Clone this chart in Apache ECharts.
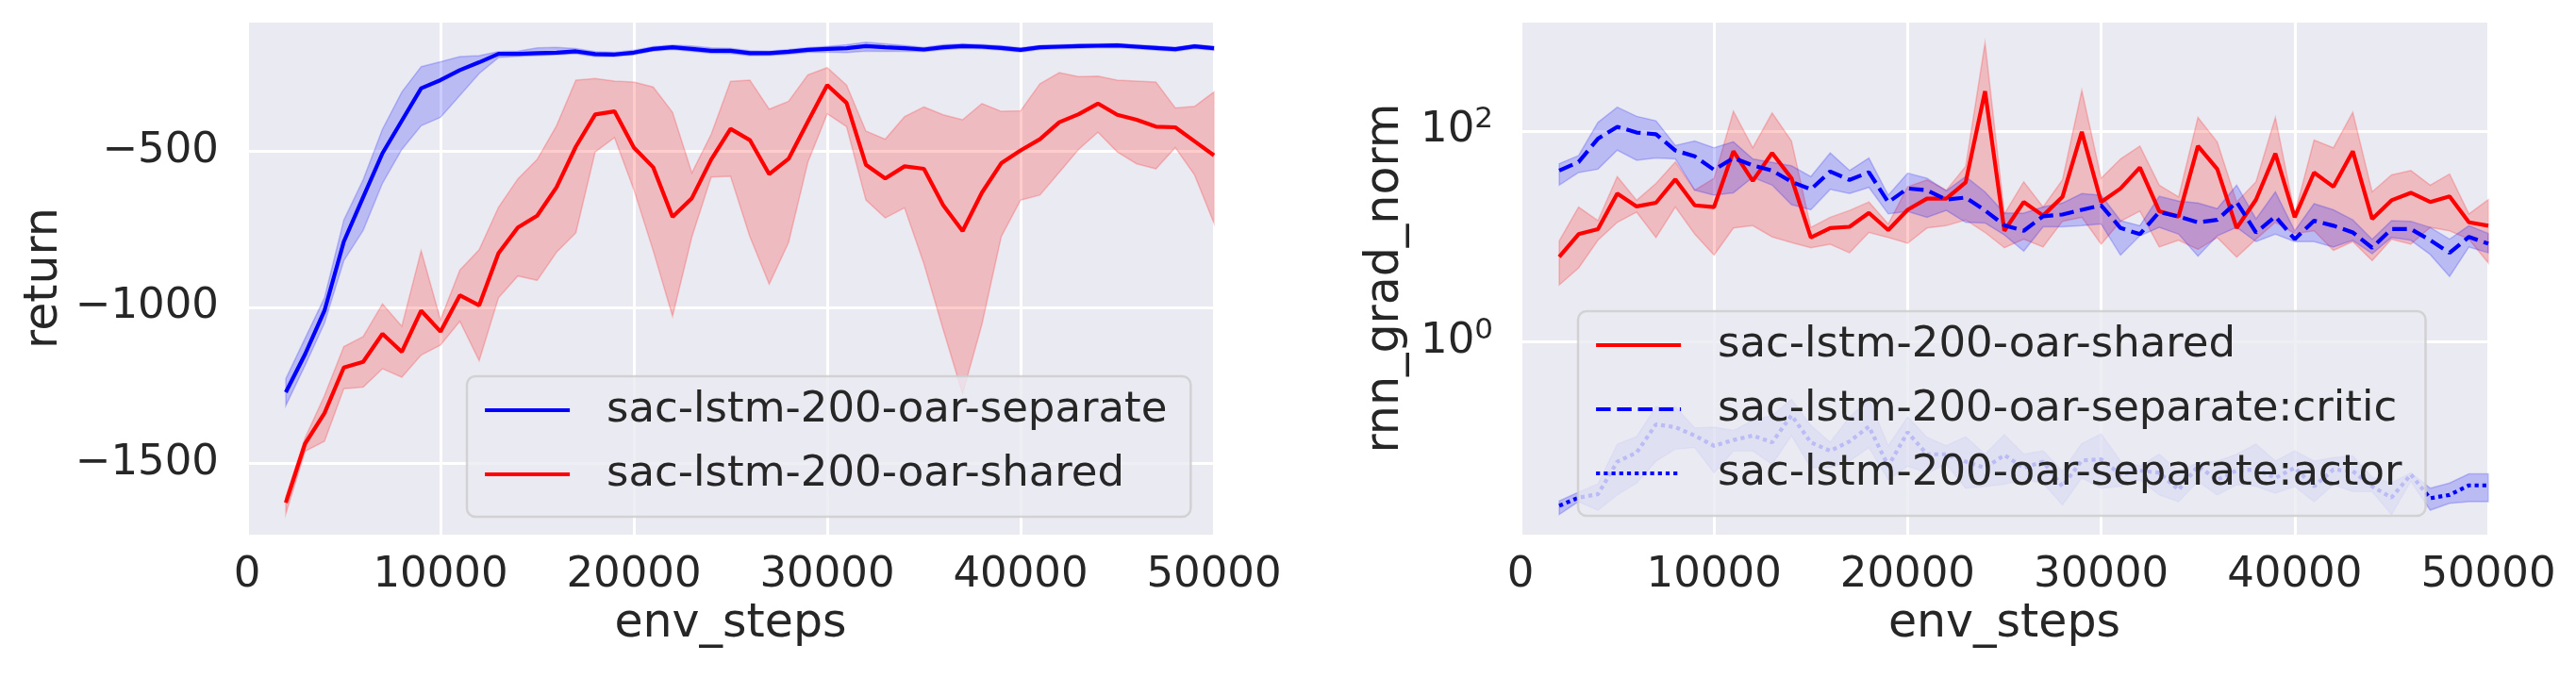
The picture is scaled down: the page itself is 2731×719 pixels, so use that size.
<!DOCTYPE html>
<html>
<head>
<meta charset="utf-8">
<script src="https://cdn.jsdelivr.net/npm/echarts@6.0.0/dist/echarts.min.js"></script>
<style>
  html, body { margin: 0; padding: 0; background: #fff; }
  #chart { width: 2731px; height: 719px; }
</style>
</head>
<body>
<div id="chart"></div>
<script>
var steps = [2000, 3000, 4000, 5000, 6000, 7000, 8000, 9000, 10000, 11000, 12000, 13000, 14000, 15000, 16000, 17000,
  18000, 19000, 20000, 21000, 22000, 23000, 24000, 25000, 26000, 27000, 28000, 29000, 30000, 31000, 32000, 33000,
  34000, 35000, 36000, 37000, 38000, 39000, 40000, 41000, 42000, 43000, 44000, 45000, 46000, 47000, 48000, 49000, 50000];

// left panel: return
var sepReturn = [-1272, -1150, -1011, -790, -648, -507, -403, -299, -273, -241, -216, -189, -189, -187, -185, -181,
  -190, -191, -185, -173, -168, -173, -179, -179, -187, -187, -182, -176, -173, -171, -164, -168, -171, -175, -168,
  -164, -166, -170, -176, -168, -166, -164, -163, -162, -166, -170, -174, -165, -171];
var sepReturnHi = [-1229, -1099, -970, -721, -592, -430, -311, -230, -214, -198, -195, -182, -180, -170, -168, -172,
  -182, -184, -177, -166, -161, -164, -170, -171, -179, -180, -175, -169, -165, -160, -152, -157, -162, -168, -160,
  -157, -159, -163, -170, -162, -160, -158, -157, -156, -160, -164, -168, -159, -165];
var sepReturnLo = [-1315, -1186, -1051, -851, -754, -603, -495, -419, -392, -322, -252, -201, -197, -195, -192, -189,
  -198, -198, -192, -180, -175, -181, -187, -188, -195, -194, -190, -184, -183, -185, -180, -181, -180, -182, -176,
  -171, -173, -177, -183, -175, -173, -171, -170, -169, -173, -177, -181, -172, -178];
var sharedReturn = [-1626, -1436, -1339, -1193, -1175, -1085, -1143, -1011, -1078, -962, -994, -827, -745, -707, -616,
  -486, -383, -373, -489, -552, -711, -651, -527, -429, -465, -574, -525, -406, -289, -346, -544, -588, -549, -557,
  -674, -756, -633, -539, -498, -462, -408, -382, -348, -384, -400, -422, -424, -469, -514];
var sharedReturnHi = [-1607, -1418, -1283, -1126, -1094, -989, -1061, -819, -1040, -881, -816, -680, -589, -527, -419,
  -273, -268, -276, -279, -295, -376, -570, -446, -277, -273, -366, -341, -256, -233, -289, -436, -462, -390, -359,
  -384, -400, -348, -373, -371, -285, -249, -262, -260, -273, -276, -279, -362, -357, -311];
var sharedReturnLo = [-1661, -1461, -1429, -1261, -1256, -1197, -1224, -1153, -1121, -1045, -1171, -970, -900, -914,
  -824, -762, -503, -457, -624, -819, -1029, -775, -583, -581, -774, -926, -793, -536, -381, -422, -657, -714, -682,
  -861, -1072, -1277, -1055, -774, -657, -641, -568, -495, -440, -503, -541, -557, -489, -577, -731];
var returnTicks = [-1500, -1000, -500];

var sharedGradExp = [0.806, 1.021, 1.069, 1.406, 1.284, 1.319, 1.541, 1.294, 1.278, 1.807, 1.525, 1.791, 1.551, 0.989,
  1.079, 1.091, 1.223, 1.059, 1.252, 1.358, 1.358, 1.512, 2.376, 1.053, 1.326, 1.197, 1.374, 1.990, 1.326, 1.454,
  1.653, 1.239, 1.188, 1.856, 1.637, 1.079, 1.348, 1.785, 1.181, 1.605, 1.470, 1.807, 1.165, 1.342, 1.413, 1.326,
  1.380, 1.133, 1.101];
var sharedGradExpHi = [0.957, 1.278, 1.149, 1.567, 1.342, 1.502, 1.705, 1.438, 1.551, 2.186, 1.840, 2.170, 1.904, 1.085,
  1.181, 1.246, 1.326, 1.117, 1.470, 1.535, 1.438, 1.663, 2.835, 1.213, 1.518, 1.278, 1.535, 2.385, 1.551, 1.734,
  1.856, 1.486, 1.374, 2.128, 1.894, 1.326, 1.518, 2.128, 1.213, 1.913, 1.840, 2.177, 1.422, 1.583, 1.624, 1.486,
  1.592, 1.213, 1.348];
var sharedGradExpLo = [0.539, 0.700, 0.963, 1.133, 1.230, 0.989, 1.278, 1.021, 0.822, 1.079, 1.101, 0.995, 0.941, 0.892,
  0.925, 0.844, 1.037, 0.989, 0.934, 1.079, 1.101, 1.156, 1.037, 0.892, 0.973, 0.899, 1.143, 1.181, 0.925, 1.143,
  1.239, 0.899, 0.963, 0.876, 0.989, 0.803, 0.973, 1.133, 1.027, 1.053, 0.867, 0.950, 0.770, 0.973, 0.925, 1.085,
  1.053, 0.973, 0.748];
var criticGradExp = [1.624, 1.705, 1.926, 2.039, 1.984, 1.968, 1.814, 1.759, 1.631, 1.743, 1.673, 1.624, 1.518, 1.445,
  1.615, 1.535, 1.608, 1.323, 1.454, 1.438, 1.348, 1.368, 1.246, 1.105, 1.053, 1.191, 1.207, 1.252, 1.294, 1.079,
  1.021, 1.230, 1.188, 1.133, 1.156, 1.326, 1.037, 1.188, 0.973, 1.149, 1.101, 1.037, 0.892, 1.069, 1.069, 0.963,
  0.844, 0.995, 0.931];
var criticGradExpHi = [1.689, 1.766, 2.080, 2.225, 2.138, 2.096, 1.862, 1.904, 1.840, 1.897, 1.734, 1.701, 1.669, 1.567,
  1.791, 1.624, 1.743, 1.390, 1.599, 1.551, 1.432, 1.567, 1.422, 1.222, 1.220, 1.278, 1.316, 1.406, 1.390, 1.149,
  1.101, 1.380, 1.335, 1.316, 1.262, 1.486, 1.165, 1.422, 1.053, 1.310, 1.252, 1.156, 0.973, 1.149, 1.143, 1.085,
  0.973, 1.101, 1.027];
var criticGradExpLo = [1.486, 1.605, 1.637, 1.817, 1.721, 1.743, 1.734, 1.438, 1.390, 1.413, 1.560, 1.486, 1.300, 1.252,
  1.445, 1.406, 1.464, 1.213, 1.236, 1.181, 1.246, 1.133, 1.127, 1.013, 0.860, 1.091, 1.091, 1.101, 1.117, 0.822,
  1.005, 1.085, 1.021, 0.812, 1.005, 1.085, 0.950, 1.021, 0.950, 0.950, 0.899, 0.963, 0.835, 0.989, 0.963, 0.828,
  0.620, 0.899, 0.844];
var actorGradExp = [-1.554, -1.477, -1.445, -1.136, -1.050, -0.783, -0.809, -0.889, -0.986, -0.931, -0.889, -0.953,
  -0.697, -0.953, -1.034, -0.944, -0.803, -1.178, -0.857, -1.066, -1.066, -1.136, -1.194, -1.074, -1.194, -1.136,
  -1.371, -1.124, -1.114, -1.258, -1.220, -1.242, -1.403, -1.178, -1.307, -1.220, -1.210, -1.290, -1.194, -1.371,
  -1.210, -1.226, -1.371, -1.477, -1.258, -1.483, -1.451, -1.361, -1.361];
var actorGradExpHi = [-1.509, -1.425, -1.348, -0.970, -0.899, -0.616, -0.616, -0.815, -0.809, -0.841, -0.745, -0.697,
  -0.546, -0.793, -0.953, -0.713, -0.546, -0.986, -0.713, -0.905, -0.986, -0.899, -1.066, -0.880, -1.066, -1.034,
  -1.226, -0.963, -0.873, -1.130, -1.178, -1.066, -1.226, -1.146, -1.130, -1.066, -0.970, -1.130, -1.034, -1.130,
  -1.098, -1.082, -1.284, -1.339, -1.242, -1.387, -1.339, -1.252, -1.252];
var actorGradExpLo = [-1.637, -1.515, -1.596, -1.451, -1.339, -1.130, -1.018, -1.002, -1.242, -1.034, -1.034, -1.162,
  -0.889, -1.194, -1.194, -1.130, -1.002, -1.307, -1.178, -1.242, -1.162, -1.387, -1.371, -1.350, -1.307, -1.339,
  -1.547, -1.290, -1.387, -1.371, -1.307, -1.451, -1.515, -1.323, -1.451, -1.355, -1.371, -1.435, -1.371, -1.515,
  -1.355, -1.419, -1.419, -1.637, -1.323, -1.596, -1.531, -1.515, -1.515];
var gradTickExps = [0, 2];

var legendLeft = ['sac-lstm-200-oar-separate', 'sac-lstm-200-oar-shared'];
var legendRight = ['sac-lstm-200-oar-shared', 'sac-lstm-200-oar-separate:critic', 'sac-lstm-200-oar-separate:actor'];

var FONT = 'DejaVu Sans';
var INK = '#262626';
var BLUE = '#0000ff';
var RED = '#ff0000';

function pow10(arr) {
  return arr.map(function (e) { return Math.pow(10, e); });
}

function pairs(ys) {
  return steps.map(function (x, i) { return [x, ys[i]]; });
}

function line(name, ys, color, dash, idx) {
  return {
    name: name,
    type: 'line',
    xAxisIndex: idx,
    yAxisIndex: idx,
    data: pairs(ys),
    symbol: 'none',
    z: 3,
    lineStyle: { color: color, width: 4.2, type: dash, cap: 'butt' },
    itemStyle: { color: color }
  };
}

// shaded band: one polygon, hi points forward then lo points back
function band(lo, hi, rgba, idx) {
  return {
    type: 'custom',
    xAxisIndex: idx,
    yAxisIndex: idx,
    silent: true,
    z: 2,
    data: [[steps[0], lo[0]]],
    encode: { x: 0, y: 1 },
    renderItem: function (params, api) {
      var top = steps.map(function (x, i) { return api.coord([x, hi[i]]); });
      var bottom = steps.map(function (x, i) { return api.coord([x, lo[i]]); }).reverse();
      return {
        type: 'polygon',
        shape: { points: top.concat(bottom) },
        style: { fill: rgba, stroke: rgba, lineWidth: 1.5 }
      };
    }
  };
}

function xAxis(idx) {
  return {
    type: 'value',
    gridIndex: idx,
    min: 0,
    max: 50000,
    interval: 10000,
    name: 'env_steps',
    nameLocation: 'middle',
    nameGap: 70,
    nameTextStyle: { fontFamily: FONT, fontSize: 49, color: INK },
    axisLine: { show: false },
    axisTick: { show: false },
    axisLabel: {
      fontFamily: FONT, fontSize: 45, color: INK, margin: 20,
      formatter: function (v) { return String(v); }
    },
    splitLine: { show: true, lineStyle: { color: '#ffffff', width: 3 } }
  };
}

function legend(names, left, top) {
  return {
    data: names,
    orient: 'vertical',
    left: left,
    top: top,
    itemWidth: 90,
    itemHeight: 20,
    itemGap: 18,
    padding: [11, 25, 20, 17],
    backgroundColor: 'rgba(234,234,242,0.8)',
    borderColor: 'rgba(204,204,204,0.8)',
    borderWidth: 2.5,
    borderRadius: 9,
    itemStyle: { opacity: 0 },
    lineStyle: { width: 4.2 },
    textStyle: { fontFamily: FONT, fontSize: 45, color: INK, lineHeight: 50, padding: [0, 0, 0, 34] }
  };
}

var chart = echarts.init(document.getElementById('chart'), null, { renderer: 'canvas' });

var series = [
  band(sepReturnLo, sepReturnHi, 'rgba(0,0,255,0.2)', 0),
  band(sharedReturnLo, sharedReturnHi, 'rgba(255,0,0,0.2)', 0),
  line('sac-lstm-200-oar-separate', sepReturn, BLUE, 'solid', 0),
  line('sac-lstm-200-oar-shared', sharedReturn, RED, 'solid', 0),
  band(pow10(sharedGradExpLo), pow10(sharedGradExpHi), 'rgba(255,0,0,0.2)', 1),
  band(pow10(criticGradExpLo), pow10(criticGradExpHi), 'rgba(0,0,255,0.2)', 1),
  band(pow10(actorGradExpLo), pow10(actorGradExpHi), 'rgba(0,0,255,0.2)', 1),
  line('sac-lstm-200-oar-shared', pow10(sharedGradExp), RED, 'solid', 1),
  line('sac-lstm-200-oar-separate:critic', pow10(criticGradExp), BLUE, [15.5, 6.7], 1),
  line('sac-lstm-200-oar-separate:actor', pow10(actorGradExp), BLUE, [4.2, 4], 1)
];

var option = {
  animation: false,
  backgroundColor: '#ffffff',
  textStyle: { fontFamily: FONT },
  grid: [
    { left: 262, top: 22, width: 1025, height: 546, show: true, backgroundColor: '#eaeaf2', borderWidth: 0 },
    { left: 1612, top: 22, width: 1026, height: 546, show: true, backgroundColor: '#eaeaf2', borderWidth: 0 }
  ],
  xAxis: [xAxis(0), xAxis(1)],
  yAxis: [{
    type: 'value',
    gridIndex: 0,
    min: -1731,
    max: -83,
    splitNumber: 3,
    name: 'return',
    nameLocation: 'middle',
    nameGap: 190,
    nameTextStyle: { fontFamily: FONT, fontSize: 49, color: INK },
    axisLine: { show: false },
    axisTick: { show: false },
    axisLabel: {
      fontFamily: FONT, fontSize: 45, color: INK, margin: 30,
      formatter: function (v) {
        return returnTicks.indexOf(v) >= 0 ? String(v).replace('-', '\u2212') : '';
      }
    },
    splitLine: { show: true, lineStyle: { color: '#ffffff', width: 3 } }
  }, {
    type: 'log',
    logBase: 100,
    gridIndex: 1,
    min: 0.01455,
    max: 1107,
    name: 'rnn_grad_norm',
    nameLocation: 'middle',
    nameGap: 118,
    nameTextStyle: { fontFamily: FONT, fontSize: 49, color: INK },
    axisLine: { show: false },
    axisTick: { show: false },
    minorTick: { show: false },
    axisLabel: {
      fontFamily: FONT, color: INK, margin: 29,
      formatter: function (v) {
        var e = Math.log10(v);
        var r = Math.round(e);
        if (Math.abs(e - r) > 1e-6 || gradTickExps.indexOf(r) < 0) return '';
        return '{b|10}{s|' + r + '}';
      },
      rich: {
        b: { fontFamily: FONT, fontSize: 45, color: INK },
        s: { fontFamily: FONT, fontSize: 31, color: INK, padding: [0, 0, 24, 0] }
      }
    },
    splitLine: { show: true, lineStyle: { color: '#ffffff', width: 3 } }
  }],
  legend: [legend(legendLeft, 495, 399), legend(legendRight, 1673, 330)],
  series: series
};

chart.setOption(option);
</script>
</body>
</html>
